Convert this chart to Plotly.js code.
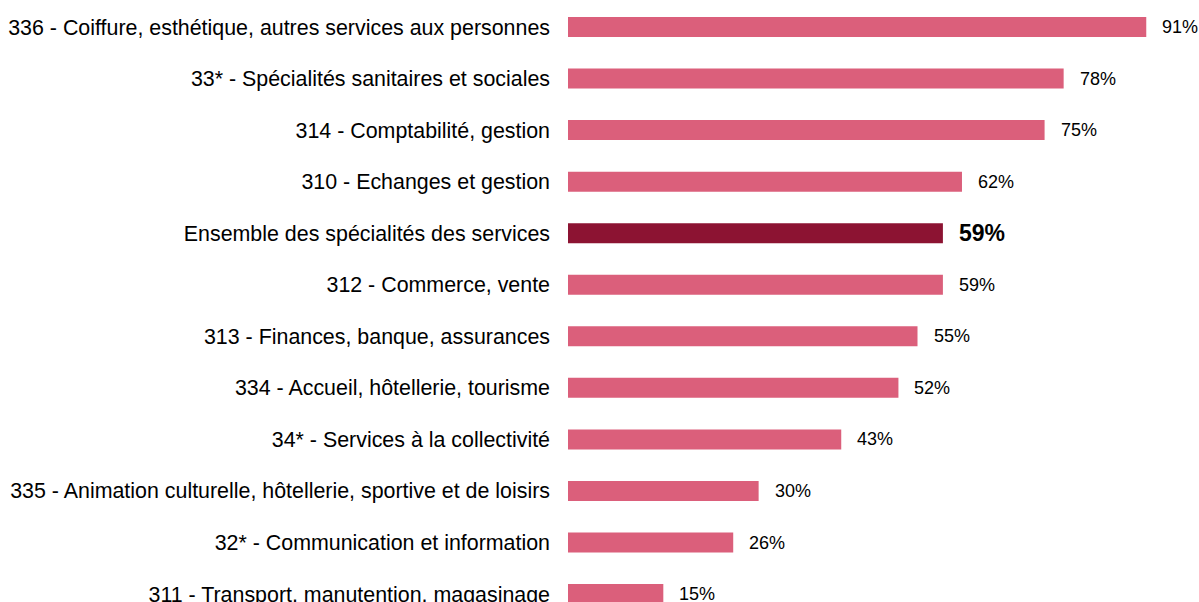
<!DOCTYPE html>
<html><head><meta charset="utf-8">
<script src="https://cdn.plot.ly/plotly-3.0.1.min.js"></script>
<style>html,body{margin:0;padding:0;background:#fff;}#chart{width:1199px;height:602px;}</style>
</head><body><div id="chart"></div>
<script>
const categories = [
  "336 - Coiffure, esthétique, autres services aux personnes",
  "33* - Spécialités sanitaires et sociales",
  "314 - Comptabilité, gestion",
  "310 - Echanges et gestion",
  "Ensemble des spécialités des services",
  "312 - Commerce, vente",
  "313 - Finances, banque, assurances",
  "334 - Accueil, hôtellerie, tourisme",
  "34* - Services à la collectivité",
  "335 - Animation culturelle, hôtellerie, sportive et de loisirs",
  "32* - Communication et information",
  "311 - Transport, manutention, magasinage"
];
const values = [91, 78, 75, 62, 59, 59, 55, 52, 43, 30, 26, 15];
const highlight = "Ensemble des spécialités des services";

const pink = "#DB5F7B", dark = "#8C1332";
const colors = categories.map(c => c === highlight ? dark : pink);

const annotations = categories.map((c, i) => ({
  x: values[i], y: c, xref: "x", yref: "y",
  text: c === highlight ? "<b>" + values[i] + "%</b>" : values[i] + "%",
  showarrow: false, xanchor: "left", xshift: 14,
  font: {family: "Liberation Sans, Arial, sans-serif", size: c === highlight ? 23 : 18, color: "#000"}
}));

Plotly.newPlot("chart", [{
  type: "bar", orientation: "h", x: values, y: categories,
  marker: {color: colors}, hoverinfo: "none"
}], {
  width: 1199, height: 602,
  margin: {l: 568, r: 0, t: 0, b: 0, pad: 0},
  bargap: 0.612,
  paper_bgcolor: "#fff", plot_bgcolor: "#fff",
  showlegend: false,
  xaxis: {range: [0, 99.3], visible: false, fixedrange: true},
  yaxis: {type: "category", range: [11.154, -0.524], showgrid: false, zeroline: false,
    showline: false, ticks: "", ticklabelstandoff: 17,
    tickfont: {family: "Liberation Sans, Arial, sans-serif", size: 21.4, color: "#000"}},
  annotations: annotations
}, {staticPlot: true});
</script></body></html>
